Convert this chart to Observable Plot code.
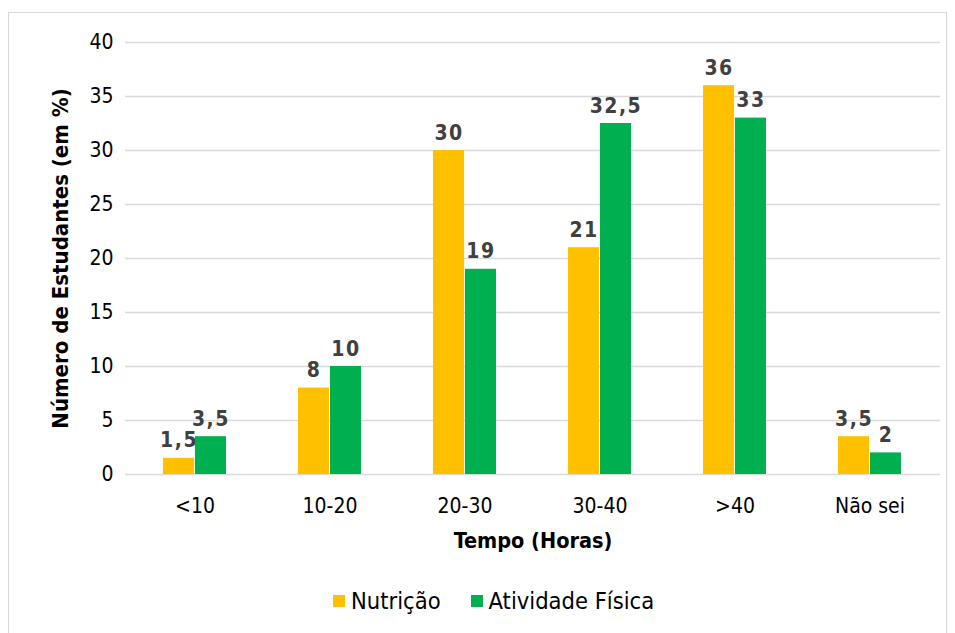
<!DOCTYPE html>
<html>
<head>
<meta charset="utf-8">
<script src="https://cdn.jsdelivr.net/npm/d3@7"></script>
<script src="https://cdn.jsdelivr.net/npm/@observablehq/plot@0.6"></script>
<style>
  html, body { margin: 0; padding: 0; background: #fff; }
  body { width: 955px; height: 633px; position: relative; overflow: hidden; font-family: "DejaVu Sans Condensed", "DejaVu Sans", sans-serif; }
  #frame { position: absolute; left: 8px; top: 12px; width: 939px; height: 640px; border: 1.5px solid #d9d9d9; box-sizing: border-box; }
  #chart { position: absolute; left: 0; top: 0; }
  #legend { position: absolute; left: 333px; top: 587px; display: flex; gap: 30px; font-size: 23.5px; color: #000; }
  #legend .item { display: flex; align-items: center; gap: 6px; }
  #legend .sw { width: 12px; height: 12px; display: inline-block; }
</style>
</head>
<body>
<div id="frame"></div>
<div id="chart"></div>
<div id="legend"></div>
<script>
const categories = ["<10", "10-20", "20-30", "30-40", ">40", "Não sei"];
const seriesNames = ["Nutrição", "Atividade Física"];
const nutricao = [1.5, 8, 30, 21, 36, 3.5];
const atividade = [3.5, 10, 19, 32.5, 33, 2];
const yTicks = [0, 5, 10, 15, 20, 25, 30, 35, 40];
const colors = ["#FFC000", "#00B050"];

const W = 955, H = 575;
const mL = 125, mR = 15, mT = 42, mB = 101;
const pad = 0.53;
const bw = (W - mL - mR) / categories.length * (1 - pad);
const half = bw / 2;

const nutData = categories.map((c, i) => ({cat: c, v: nutricao[i]}));
const atvData = categories.map((c, i) => ({cat: c, v: atividade[i]}));
const fmt = v => String(v).replace(".", ",");

const font = "'DejaVu Sans Condensed', 'DejaVu Sans', sans-serif";
const labelStyle = {fill: "#404040", fontWeight: "bold", fontSize: 21, lineAnchor: "bottom", dy: -11};

const chart = Plot.plot({
  width: W, height: H,
  marginLeft: mL, marginRight: mR, marginTop: mT, marginBottom: mB,
  style: {fontFamily: font, fontSize: "21px", color: "#000", background: "transparent"},
  x: {domain: categories, paddingInner: pad, paddingOuter: pad / 2, label: null},
  y: {domain: [0, 40], label: null},
  marks: [
    Plot.ruleY(yTicks, {stroke: "#d9d9d9", strokeWidth: 1.3}),
    Plot.barY(nutData, {x: "cat", y: "v", fill: colors[0], insetRight: half}),
    Plot.barY(atvData, {x: "cat", y: "v", fill: colors[1], insetLeft: half}),
    Plot.text(nutData, {x: "cat", y: "v", text: d => fmt(d.v), dx: -half / 2, ...labelStyle}),
    Plot.text(atvData, {x: "cat", y: "v", text: d => fmt(d.v), dx: half / 2, ...labelStyle}),
    Plot.axisY({ticks: yTicks, tickSize: 0, tickPadding: 12, label: null, fontSize: 21, fill: "#000"}),
    Plot.axisX({tickSize: 0, tickPadding: 24, label: null, fontSize: 21, fill: "#000"}),
    Plot.text(["Número de Estudantes (em %)"], {frameAnchor: "left", dx: -65, rotate: -90, fontWeight: "bold", fontSize: 22, fill: "#000", textAnchor: "middle"}),
    Plot.text(["Tempo (Horas)"], {frameAnchor: "bottom", dy: 73, fontWeight: "bold", fontSize: 21.5, fill: "#000", textAnchor: "middle"})
  ]
});
chart.querySelectorAll("text").forEach(t => {
  if (t.getAttribute("fill") === "#404040" || (t.parentNode && t.parentNode.getAttribute && t.parentNode.getAttribute("fill") === "#404040")) {
    t.style.letterSpacing = "1.5px";
  }
});
document.getElementById("chart").appendChild(chart);

const legend = document.getElementById("legend");
seriesNames.forEach((n, i) => {
  const it = document.createElement("span");
  it.className = "item";
  const sw = document.createElement("span");
  sw.className = "sw";
  sw.style.background = colors[i];
  const lab = document.createElement("span");
  lab.textContent = n;
  it.appendChild(sw); it.appendChild(lab);
  legend.appendChild(it);
});
</script>
</body>
</html>
